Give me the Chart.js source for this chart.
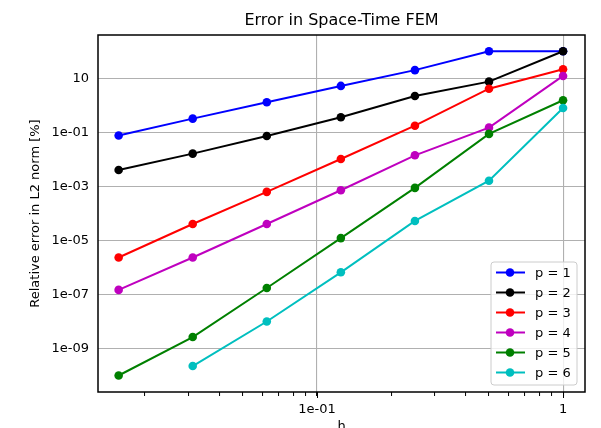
<!DOCTYPE html>
<html>
<head>
<meta charset="utf-8">
<script src="https://cdn.jsdelivr.net/npm/chart.js@4.4.1/dist/chart.umd.min.js"></script>
<style>
  body { margin: 0; background: #fff; }
</style>
</head>
<body>
<canvas id="myChart" width="601" height="428"></canvas>
<script>
// mesh sizes h
const hValues = [0.015625, 0.03125, 0.0625, 0.125, 0.25, 0.5, 1];

// relative error [%] per polynomial degree
const errP1 = [0.076, 0.32, 1.29, 5.2, 20, 100, 100];
const errP2 = [0.004, 0.0162, 0.073, 0.36, 2.2, 7.5, 100];
const errP3 = [2.3e-6, 4.0e-5, 6.2e-4, 0.0102, 0.175, 4.1, 21.5];
const errP4 = [1.45e-7, 2.3e-6, 4.0e-5, 7.1e-4, 0.014, 0.148, 12.2];
const errP5 = [9.8e-11, 2.6e-9, 1.7e-7, 1.2e-5, 8.7e-4, 0.087, 1.53];
const errP6 = [null, 2.2e-10, 9.8e-9, 6.5e-7, 5.2e-5, 1.6e-3, 0.79];

const seriesLabels = ['p = 1', 'p = 2', 'p = 3', 'p = 4', 'p = 5', 'p = 6'];
const seriesColors = ['#0000ff', '#000000', '#ff0000', '#bf00bf', '#008000', '#00bfbf'];

// ticks
const xTickValues = [0.02, 0.03, 0.04, 0.05, 0.06, 0.07, 0.08, 0.09, 0.1,
  0.2, 0.3, 0.4, 0.5, 0.6, 0.7, 0.8, 0.9, 1];
const xTickLabels = { 0.1: '1e-01', 1: '1' };
const yTickValues = [1e-9, 1e-7, 1e-5, 1e-3, 1e-1, 10];
const yTickLabels = ['1e-09', '1e-07', '1e-05', '1e-03', '1e-01', '10'];

Chart.defaults.font.family = "'DejaVu Sans', sans-serif";
Chart.defaults.color = '#000';

const allSeries = [errP1, errP2, errP3, errP4, errP5, errP6];
const datasets = allSeries.map((vals, i) => ({
  label: seriesLabels[i],
  data: hValues.map((h, j) => ({ x: h, y: vals[j] })),
  borderColor: seriesColors[i],
  backgroundColor: seriesColors[i],
  borderWidth: 2,
  pointRadius: 4.3,
  pointHoverRadius: 4.3,
  pointBorderWidth: 0,
  order: allSeries.length - i
}));

// box around the plot, longer major x ticks, legend in the lower right
const frameAndLegend = {
  id: 'frameAndLegend',
  afterDraw(chart) {
    const { ctx, chartArea } = chart;
    const xScale = chart.scales.x;
    ctx.save();
    ctx.strokeStyle = '#000';
    ctx.lineWidth = 1;
    Object.keys(xTickLabels).forEach((v) => {
      const px = Math.round(xScale.getPixelForValue(Number(v))) + 0.5;
      ctx.beginPath();
      ctx.moveTo(px, chartArea.bottom);
      ctx.lineTo(px, chartArea.bottom + 6);
      ctx.stroke();
    });

    ctx.lineWidth = 1.5;
    ctx.strokeRect(chartArea.left, chartArea.top,
      chartArea.right - chartArea.left, chartArea.bottom - chartArea.top);

    const boxW = 86, boxH = 123;
    const bx = chartArea.right - 8 - boxW;
    const by = chartArea.bottom - 7 - boxH;
    ctx.beginPath();
    ctx.roundRect(bx, by, boxW, boxH, 3);
    ctx.fillStyle = 'rgba(255,255,255,0.8)';
    ctx.fill();
    ctx.strokeStyle = '#cccccc';
    ctx.lineWidth = 1;
    ctx.stroke();

    ctx.font = "13px 'DejaVu Sans', sans-serif";
    ctx.textBaseline = 'middle';
    chart.data.datasets.forEach((ds, i) => {
      const y = by + 10.5 + i * 20;
      ctx.strokeStyle = ds.borderColor;
      ctx.lineWidth = 2;
      ctx.beginPath();
      ctx.moveTo(bx + 5, y);
      ctx.lineTo(bx + 34, y);
      ctx.stroke();
      ctx.fillStyle = ds.borderColor;
      ctx.beginPath();
      ctx.arc(bx + 19, y, 4.3, 0, Math.PI * 2);
      ctx.fill();
      ctx.fillStyle = '#000';
      ctx.fillText(ds.label, bx + 44, y + 1);
    });
    ctx.restore();
  }
};

const ctx = document.getElementById('myChart').getContext('2d');
const chart = new Chart(ctx, {
  type: 'line',
  data: { datasets: datasets },
  options: {
    responsive: false,
    animation: false,
    devicePixelRatio: 1,
    layout: { padding: { left: 28, right: 16, top: 0, bottom: 0 } },
    plugins: {
      legend: { display: false },
      tooltip: { enabled: false },
      title: {
        display: true,
        text: 'Error in Space-Time FEM',
        fullSize: false,
        color: '#000',
        font: { size: 16, weight: 'normal' },
        padding: { top: 11, bottom: 4.8 }
      }
    },
    scales: {
      x: {
        type: 'logarithmic',
        min: 0.01288,
        max: 1.228,
        afterFit: (scale) => { scale.height = 36; },
        afterBuildTicks: (scale) => {
          scale.ticks = xTickValues.map(v => ({ value: v }));
        },
        border: { display: false },
        grid: {
          drawTicks: true,
          tickLength: 4,
          tickColor: '#000',
          tickWidth: 1,
          lineWidth: 1.1,
          color: (c) => (c.tick && xTickLabels[c.tick.value] !== undefined) ? '#b0b0b0' : 'rgba(0,0,0,0)'
        },
        ticks: {
          autoSkip: false,
          maxRotation: 0,
          padding: 6,
          font: { size: 13 },
          callback: (v) => xTickLabels[v] !== undefined ? xTickLabels[v] : ''
        },
        title: {
          display: true,
          text: 'h',
          font: { size: 13 },
          padding: { top: 0, bottom: -6 }
        }
      },
      y: {
        type: 'logarithmic',
        min: 2.4e-11,
        max: 400,
        afterFit: (scale) => { scale.width = 70; },
        afterBuildTicks: (scale) => {
          scale.ticks = yTickValues.map(v => ({ value: v }));
        },
        border: { display: false },
        grid: {
          drawTicks: false,
          lineWidth: 1.1,
          color: '#b0b0b0'
        },
        ticks: {
          autoSkip: false,
          padding: 9,
          font: { size: 13 },
          callback: (v, idx) => yTickLabels[idx]
        },
        title: {
          display: true,
          text: 'Relative error in L2 norm [%]',
          font: { size: 13 },
          padding: 0
        }
      }
    }
  },
  plugins: [frameAndLegend]
});
</script>
</body>
</html>
